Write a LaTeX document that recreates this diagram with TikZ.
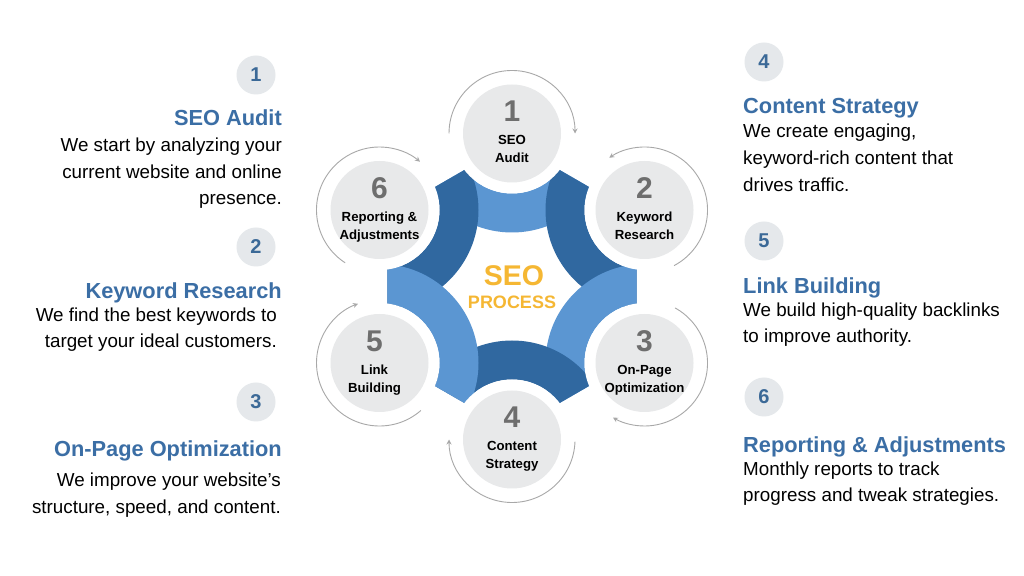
\documentclass[tikz,border=0pt]{standalone}
\usepackage{fontspec}
\setmainfont{Liberation Sans}
\usetikzlibrary{calc,arrows.meta}
\definecolor{lightband}{HTML}{5B96D2}
\definecolor{darkband}{HTML}{3068A0}
\definecolor{circfill}{HTML}{E8E9EA}
\definecolor{numgrey}{HTML}{6E6E6E}
\definecolor{arcgrey}{HTML}{A8A8A8}
\definecolor{titleblue}{HTML}{3B6EA5}
\definecolor{badgefill}{HTML}{E5E8EB}
\definecolor{badgenum}{HTML}{3B6997}
\definecolor{seoorange}{HTML}{F5B733}
\tikzset{
  stepcircle/.style={circle, fill=circfill, minimum size=98pt, inner sep=0pt},
  bignum/.style={font=\fontsize{30}{30}\selectfont\bfseries, text=numgrey, inner sep=0pt, anchor=base},
  circlabel/.style={font=\fontsize{13.2}{13.2}\selectfont\bfseries, text=black, inner sep=0pt, anchor=base},
  arcarrow/.style={draw=arcgrey, line width=0.9pt, -{Stealth[length=5pt,width=5pt]}},
  badge/.style={circle, fill=badgefill, minimum size=39pt, inner sep=0pt, text=badgenum, font=\fontsize{20}{20}\selectfont\bfseries},
  titletxt/.style={font=\fontsize{21.8}{21.8}\selectfont\bfseries, text=titleblue, inner sep=0pt},
  bodytxt/.style={font=\fontsize{18.8}{18.8}\selectfont, text=black, inner sep=0pt},
  lefttxt/.style={anchor=base east},
  righttxt/.style={anchor=base west}
}
\begin{document}
\begin{tikzpicture}[x=1pt,y=1pt]
\useasboundingbox (0,0) rectangle (1024,575);
\fill[white] (0,0) rectangle (1024,575);
\coordinate (C) at (512,288.5);
\foreach \i/\a in {1/90,2/30,3/-30,4/-90,5/-150,6/150}
  \coordinate (P\i) at ($(C)+(\a:153)$);
% blue bands
\begin{scope}
\clip ($(C)+(90:144)$) -- ($(C)+(30:144)$) -- ($(C)+(-30:144)$) -- ($(C)+(-90:144)$) -- ($(C)+(-150:144)$) -- ($(C)+(150:144)$) -- cycle;
\foreach \i/\c in {1/lightband,2/darkband,6/darkband,3/lightband,4/darkband,5/lightband}
  \fill[\c, even odd rule] (P\i) circle[radius=99] (P\i) circle[radius=60];
\end{scope}
\foreach \i in {1,...,6}
  \fill[white] (P\i) circle[radius=60];
% step circles
\foreach \i in {1,...,6}
  \node[stepcircle] (s\i) at (P\i) {};
% arrows around circles
\draw[arcarrow] ($(P1)+(180:63)$) arc[start angle=180, end angle=0, radius=63];
\draw[arcarrow] ($(P2)+(-62:63)$) arc[start angle=-62, end angle=124, radius=63];
\draw[arcarrow] ($(P3)+(61:63)$) arc[start angle=61, end angle=-120, radius=63];
\draw[arcarrow] ($(P4)+(-2:63)$) arc[start angle=-2, end angle=-180, radius=63];
\draw[arcarrow] ($(P5)+(-49:63)$) arc[start angle=-49, end angle=-250, radius=63];
\draw[arcarrow] ($(P6)+(237:63)$) arc[start angle=237, end angle=50, radius=63];
% circle texts
\node[bignum] (n1) at ($(P1)+(0,11.5)$) {1};
\node[circlabel] (l1a) at ($(P1)+(0,-11.5)$) {SEO};
\node[circlabel] (l1b) at ($(P1)+(0,-29.5)$) {Audit};
\node[bignum] (n2) at ($(P2)+(0,11.5)$) {2};
\node[circlabel] (l2a) at ($(P2)+(0,-11.5)$) {Keyword};
\node[circlabel] (l2b) at ($(P2)+(0,-29.5)$) {Research};
\node[bignum] (n3) at ($(P3)+(0,11.5)$) {3};
\node[circlabel] (l3a) at ($(P3)+(0,-11.5)$) {On-Page};
\node[circlabel] (l3b) at ($(P3)+(0,-29.5)$) {Optimization};
\node[bignum] (n4) at ($(P4)+(0,11.5)$) {4};
\node[circlabel] (l4a) at ($(P4)+(0,-11.5)$) {Content};
\node[circlabel] (l4b) at ($(P4)+(0,-29.5)$) {Strategy};
\node[bignum] (n5) at ($(P5)+(-5,11.5)$) {5};
\node[circlabel] (l5a) at ($(P5)+(-5,-11.5)$) {Link};
\node[circlabel] (l5b) at ($(P5)+(-5,-29.5)$) {Building};
\node[bignum] (n6) at ($(P6)+(0,11.5)$) {6};
\node[circlabel] (l6a) at ($(P6)+(0,-11.5)$) {Reporting \&};
\node[circlabel] (l6b) at ($(P6)+(0,-29.5)$) {Adjustments};
% center text
\node[font=\fontsize{28.5}{28.5}\selectfont\bfseries, text=seoorange, inner sep=0pt, anchor=base] (seo) at (514,289) {SEO};
\node[font=\fontsize{18}{18}\selectfont\bfseries, text=seoorange, inner sep=0pt, anchor=base] (proc) at (512,266.5) {PROCESS};
% left column
\node[badge] (b1) at (256,500) {1};
\node[titletxt, lefttxt] (t1) at (282,449) {SEO Audit};
\node[bodytxt, lefttxt] (d1a) at (282,423) {We start by analyzing your};
\node[bodytxt, lefttxt] (d1b) at (282,396) {current website and online};
\node[bodytxt, lefttxt] (d1c) at (282,370) {presence.};
\node[badge] (b2) at (256,328) {2};
\node[titletxt, lefttxt] (t2) at (282,276) {Keyword Research};
\node[bodytxt, lefttxt] (d2a) at (277,253) {We find the best keywords to};
\node[bodytxt, lefttxt] (d2b) at (277,227) {target your ideal customers.};
\node[badge] (b3) at (256,173) {3};
\node[titletxt, lefttxt] (t3) at (282,118) {On-Page Optimization};
\node[bodytxt, lefttxt] (d3a) at (281,88) {We improve your website’s};
\node[bodytxt, lefttxt] (d3b) at (281,61) {structure, speed, and content.};
% right column
\node[badge] (b4) at (764,513) {4};
\node[titletxt, righttxt] (t4) at (743,461) {Content Strategy};
\node[bodytxt, righttxt] (d4a) at (743,437) {We create engaging,};
\node[bodytxt, righttxt] (d4b) at (743,410) {keyword-rich content that};
\node[bodytxt, righttxt] (d4c) at (743,383) {drives traffic.};
\node[badge] (b5) at (764,334) {5};
\node[titletxt, righttxt] (t5) at (743,281) {Link Building};
\node[bodytxt, righttxt] (d5a) at (743,258) {We build high-quality backlinks};
\node[bodytxt, righttxt] (d5b) at (743,232) {to improve authority.};
\node[badge] (b6) at (764,178) {6};
\node[titletxt, righttxt] (t6) at (743,122) {Reporting \& Adjustments};
\node[bodytxt, righttxt] (d6a) at (743,99) {Monthly reports to track};
\node[bodytxt, righttxt] (d6b) at (743,73) {progress and tweak strategies.};
\end{tikzpicture}
\end{document}
